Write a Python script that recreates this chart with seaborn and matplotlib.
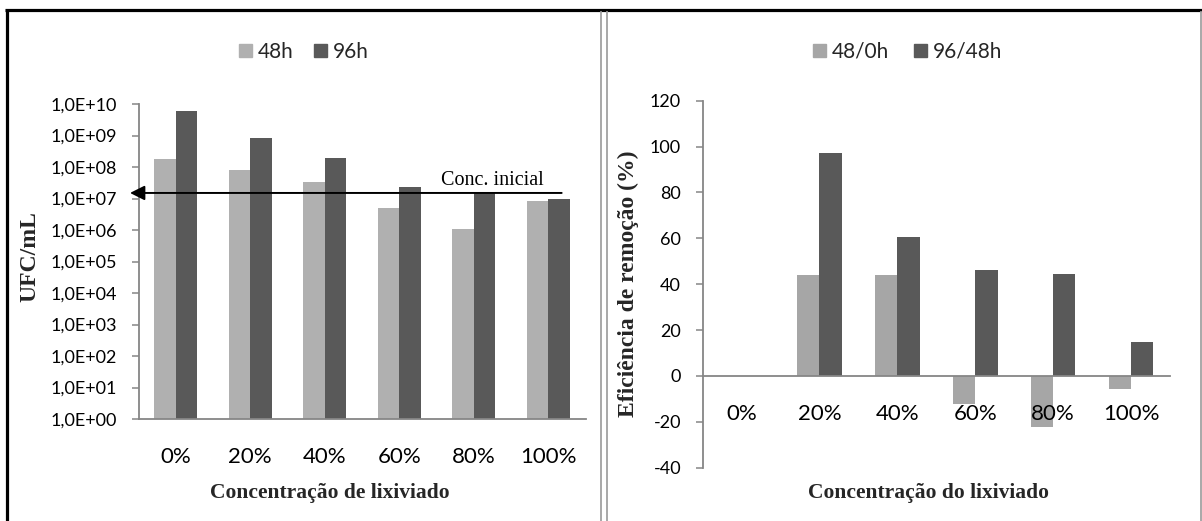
import matplotlib
matplotlib.use('Agg')
import matplotlib.pyplot as plt
import seaborn as sns
import pandas as pd
from matplotlib.lines import Line2D
from matplotlib.patches import Patch

# ---------------- data ----------------
categories = ['0%', '20%', '40%', '60%', '80%', '100%']

left_series = ['48h', '96h']
ufc_48h = [1.75e8, 8.0e7, 3.4e7, 5.0e6, 1.1e6, 8.1e6]
ufc_96h = [6.0e9, 8.2e8, 2.0e8, 2.26e7, 1.46e7, 9.4e6]
conc_inicial = 1.5e7
left_yticks = [10.0 ** k for k in range(0, 11)]
left_yticklabels = ['1,0E+%02d' % k for k in range(0, 11)]

right_series = ['48/0h', '96/48h']
ef_48_0 = [0, 44.1, 43.8, -12.1, -22.3, -5.5]
ef_96_48 = [0, 97.4, 60.7, 46.2, 44.5, 15.0]
right_yticks = [-40, -20, 0, 20, 40, 60, 80, 100, 120]

# ---------------- style ----------------
sns.set_theme(style='white')
plt.rcParams['font.family'] = ['Lato', 'DejaVu Sans']
plt.rcParams['axes.unicode_minus'] = False
SERIF = ['Liberation Serif', 'DejaVu Serif']

W, H = 1202, 521
AX_COLOR = '#868686'
LIGHT_L = '#B0B0B0'
LIGHT_R = '#A6A6A6'
DARK = '#595959'

fig = plt.figure(figsize=(W / 100, H / 100), dpi=100)
fig.patch.set_facecolor('white')

def fx(px):
    return px / W

def fy(py):
    return 1 - py / H

axL = fig.add_axes([fx(138.5), fy(419), fx(585.5) - fx(138.5), fy(104) - fy(419)])
axR = fig.add_axes([fx(702.6), fy(467.7), fx(1170) - fx(702.6), fy(100.7) - fy(467.7)])

# ---------------- left panel ----------------
dfL = pd.DataFrame({
    'cat': categories * 2,
    'val': ufc_48h + ufc_96h,
    'serie': [left_series[0]] * len(categories) + [left_series[1]] * len(categories),
})
sns.barplot(data=dfL, x='cat', y='val', hue='serie', order=categories,
            hue_order=left_series, palette=[LIGHT_L, DARK], width=0.572, gap=0,
            errorbar=None, legend=False, linewidth=0, log_scale=True, ax=axL)
axL.set_yscale('log')
axL.set_ylim(1, 1e10)
axL.set_xlim(-0.5, len(categories) - 0.5)
axL.set_yticks(left_yticks)
axL.set_yticklabels(left_yticklabels)
axL.minorticks_off()
axL.set_xlabel('')
axL.set_ylabel('')

# initial concentration arrow
axL.annotate('', xy=(-0.614, conc_inicial), xytext=(5.18, conc_inicial),
             arrowprops=dict(arrowstyle='-|>', color='black', lw=1.4,
                             mutation_scale=22, shrinkA=0, shrinkB=0),
             annotation_clip=False)
axL.annotate('Conc. inicial', xy=(4.25, conc_inicial), xytext=(0, 2),
             textcoords='offset points', ha='center', va='bottom',
             fontsize=14.5, family=SERIF, color='black')

# ---------------- right panel ----------------
dfR = pd.DataFrame({
    'cat': categories * 2,
    'val': ef_48_0 + ef_96_48,
    'serie': [right_series[0]] * len(categories) + [right_series[1]] * len(categories),
})
sns.barplot(data=dfR, x='cat', y='val', hue='serie', order=categories,
            hue_order=right_series, palette=[LIGHT_R, DARK], width=0.572, gap=0,
            errorbar=None, legend=False, linewidth=0, ax=axR)
axR.set_ylim(-40, 120)
axR.set_xlim(-0.5, len(categories) - 0.5)
axR.set_yticks(right_yticks)
axR.set_xlabel('')
axR.set_ylabel('')
axR.spines['bottom'].set_position(('data', 0))

# ---------------- common axis styling ----------------
for ax in (axL, axR):
    ax.set_facecolor('white')
    ax.set_axisbelow(False)
    for s in ('top', 'right'):
        ax.spines[s].set_visible(False)
    for s in ('left', 'bottom'):
        ax.spines[s].set_color(AX_COLOR)
        ax.spines[s].set_linewidth(1.3)
    ax.tick_params(axis='y', which='major', direction='out', length=5, width=1.1,
                   color=AX_COLOR, labelsize=13, labelcolor='black', pad=10.5, left=True)
    ax.tick_params(axis='x', which='major', length=0, labelsize=16,
                   labelcolor='black', pad=20)
    ax.grid(False)

# ---------------- legends ----------------
axL.legend(handles=[Patch(color=LIGHT_L, label=left_series[0]),
                    Patch(color=DARK, label=left_series[1])],
           loc='center', bbox_to_anchor=(fx(304), fy(52)), bbox_transform=fig.transFigure,
           ncol=2, frameon=False, fontsize=15, handlelength=0.6, handleheight=0.6,
           handletextpad=0.3, columnspacing=1.0, borderpad=0)
axR.legend(handles=[Patch(color=LIGHT_R, label=right_series[0]),
                    Patch(color=DARK, label=right_series[1])],
           loc='center', bbox_to_anchor=(fx(908), fy(52)), bbox_transform=fig.transFigure,
           ncol=2, frameon=False, fontsize=15, handlelength=0.6, handleheight=0.6,
           handletextpad=0.3, columnspacing=1.2, borderpad=0)

# ---------------- axis titles ----------------
fig.text(fx(30), fy(257), 'UFC/mL', rotation=90, ha='center', va='center',
         fontsize=17, fontweight='bold', family=SERIF)
fig.text(fx(330), fy(493), 'Concentração de lixiviado', ha='center', va='center',
         fontsize=15.5, fontweight='bold', family=SERIF)
fig.text(fx(628), fy(284), 'Eficiência de remoção (%)', rotation=90, ha='center',
         va='center', fontsize=17, fontweight='bold', family=SERIF)
fig.text(fx(929), fy(493), 'Concentração do lixiviado', ha='center', va='center',
         fontsize=15.5, fontweight='bold', family=SERIF)

# ---------------- frame lines ----------------
fig.add_artist(Line2D([fx(5), fx(1202)], [fy(10), fy(10)], transform=fig.transFigure,
                      color='black', lw=2.3, solid_capstyle='butt'))
fig.add_artist(Line2D([fx(7), fx(7)], [fy(9), fy(521)], transform=fig.transFigure,
                      color='black', lw=2.3, solid_capstyle='butt'))
for xp in (601, 607, 1201):
    fig.add_artist(Line2D([fx(xp), fx(xp)], [fy(11), fy(521)], transform=fig.transFigure,
                          color='#9A9A9A', lw=1.2, solid_capstyle='butt'))

fig.savefig('out.png', dpi=100, facecolor='white')
